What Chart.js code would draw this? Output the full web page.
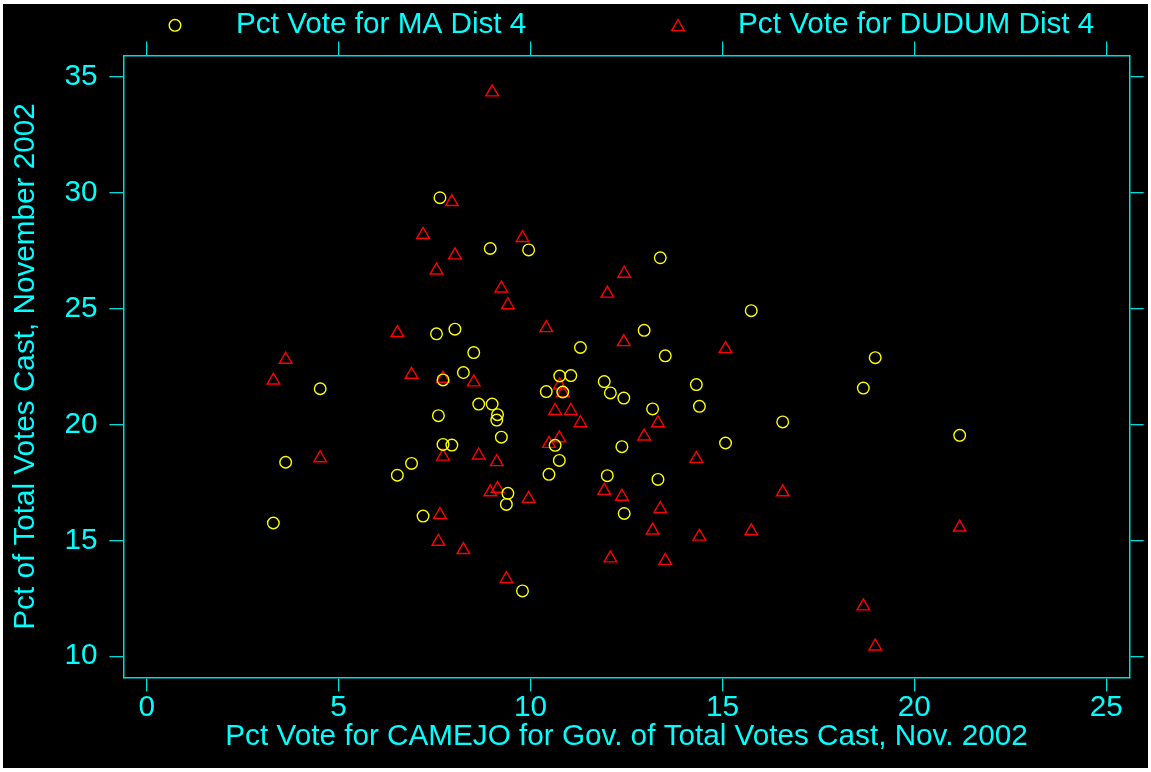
<!DOCTYPE html>
<html>
<head>
<meta charset="utf-8">
<title>Pct Vote for MA and DUDUM, Dist 4</title>
<script src="https://cdn.jsdelivr.net/npm/chart.js@4/dist/chart.umd.min.js"></script>
<style>
  html, body { margin: 0; padding: 0; background: #ffffff; }
  #wrap { position: relative; width: 1151px; height: 772px; }
  #plot { display: block; background: #000000; }
  #frame {
    position: absolute; left: 0; top: 0; right: 0; bottom: 0;
    border-style: solid; border-color: #ffffff;
    border-width: 4px 3px 4px 3px; pointer-events: none;
  }
</style>
</head>
<body>
<div id="wrap">
  <canvas id="plot" width="1151" height="772"></canvas>
  <div id="frame"></div>
</div>
<script>
// Per-precinct percentages, District 4
const camejoPct = [
  3.30, 3.62, 4.52, 6.53, 6.90, 7.20, 7.55, 7.60, 7.64, 7.72,
  7.72, 7.95, 8.03, 8.25, 8.52, 8.65, 8.95, 9.00, 9.14, 9.12,
  9.24, 9.37, 9.41, 9.79, 9.95, 10.41, 10.48, 10.64, 10.75, 10.76,
  10.84, 11.05, 11.30, 11.92, 12.00, 12.08, 12.38, 12.43, 12.44, 12.96,
  13.18, 13.32, 13.38, 13.51, 14.32, 14.40, 15.08, 15.75, 16.57, 18.67,
  18.98, 21.18
];
const maPct = [
  15.75, 18.37, 21.54, 17.81, 18.32, 16.05, 23.91, 20.38, 29.78, 21.92,
  19.14, 19.11, 24.11, 22.24, 23.10, 20.88, 27.59, 20.88, 20.42, 20.19,
  19.45, 16.55, 17.03, 12.82, 27.53, 21.42, 17.85, 19.10, 18.45, 22.09,
  21.40, 22.11, 23.32, 21.85, 17.79, 21.36, 19.04, 21.14, 16.16, 24.06,
  20.67, 17.63, 27.19, 22.96, 21.72, 20.78, 19.20, 24.91, 20.11, 21.57,
  22.88, 19.53
];
const dudumPct = [
  21.90, 22.80, 18.55, 23.95, 22.15, 28.19, 26.65, 14.95, 16.10, 21.98,
  18.62, 29.60, 27.30, 14.59, 21.82, 18.67, 17.08, 34.33, 17.23, 18.38,
  25.87, 13.34, 25.15, 28.05, 16.80, 24.16, 19.17, 20.59, 19.41, 21.69,
  21.36, 20.59, 20.06, 17.14, 25.65, 14.23, 16.89, 23.56, 26.51, 19.49,
  15.43, 20.06, 16.36, 14.12, 18.52, 15.17, 23.26, 15.40, 17.08, 12.16,
  10.43, 15.56
];
const xTickValues = [0, 5, 10, 15, 20, 25];
const yTickValues = [10, 15, 20, 25, 30, 35];
const seriesLabels = ['Pct Vote for MA Dist 4', 'Pct Vote for DUDUM Dist 4'];
const xTitle = 'Pct Vote for CAMEJO for Gov. of Total Votes Cast, Nov. 2002';
const yTitle = 'Pct of Total Votes Cast, November 2002';

const CYAN = '#00ffff';
const AXIS = '#00dcdc';
const FONT = { family: '"Liberation Sans", Arial, Helvetica, sans-serif', size: 29.7 };
Chart.defaults.font.family = FONT.family;

const circleStyle = { pointStyle: 'circle', radius: 5.8, color: '#ffff00', width: 1.4 };
const triangleStyle = { pointStyle: 'triangle', radius: 7.3, color: '#ff0000', width: 1.4 };

function fixedTicks(values) {
  return scale => { scale.ticks = values.map(v => ({ value: v })); };
}

function axisGrid() {
  return { drawOnChartArea: false, drawTicks: true, tickLength: 14, color: AXIS, lineWidth: 1.3 };
}
function axisBorder() {
  return { display: true, color: AXIS, width: 1.5 };
}

// Key drawn across the top margin: symbol then label, two columns
const topKey = {
  id: 'topKey',
  afterDraw(chart) {
    const ctx = chart.ctx;
    const entries = [
      { style: circleStyle, sx: 175, sy: 25.3, tx: 236, label: seriesLabels[0] },
      { style: triangleStyle, sx: 678, sy: 27, tx: 738, label: seriesLabels[1] }
    ];
    ctx.save();
    entries.forEach(e => {
      ctx.strokeStyle = e.style.color;
      ctx.fillStyle = 'rgba(0,0,0,0)';
      ctx.lineWidth = e.style.width;
      Chart.helpers.drawPoint(ctx, {
        pointStyle: e.style.pointStyle, radius: e.style.radius,
        rotation: 0, borderWidth: e.style.width
      }, e.sx, e.sy);
      ctx.fillStyle = CYAN;
      ctx.font = FONT.size + 'px ' + FONT.family;
      ctx.textAlign = 'left';
      ctx.textBaseline = 'middle';
      ctx.fillText(e.label, e.tx, 25);
    });
    ctx.restore();
  }
};

new Chart(document.getElementById('plot'), {
  type: 'scatter',
  data: {
    datasets: [
      {
        label: seriesLabels[0],
        data: camejoPct.map((x, i) => ({ x: x, y: maPct[i] })),
        pointStyle: circleStyle.pointStyle,
        pointRadius: circleStyle.radius,
        borderColor: circleStyle.color,
        backgroundColor: 'rgba(0,0,0,0)',
        borderWidth: circleStyle.width,
        xAxisID: 'x', yAxisID: 'y'
      },
      {
        label: seriesLabels[1],
        data: camejoPct.map((x, i) => ({ x: x, y: dudumPct[i] })),
        pointStyle: triangleStyle.pointStyle,
        pointRadius: triangleStyle.radius,
        borderColor: triangleStyle.color,
        backgroundColor: 'rgba(0,0,0,0)',
        borderWidth: triangleStyle.width,
        xAxisID: 'x', yAxisID: 'y'
      }
    ]
  },
  options: {
    responsive: false,
    animation: false,
    devicePixelRatio: 1,
    layout: { padding: 0 },
    events: [],
    plugins: { legend: { display: false }, tooltip: { enabled: false } },
    scales: {
      x: {
        type: 'linear', position: 'bottom', min: -0.607, max: 25.61,
        afterBuildTicks: fixedTicks(xTickValues),
        afterFit: s => { s.height = 94.5; },
        ticks: { color: CYAN, font: { size: FONT.size, lineHeight: 1.1 }, padding: 0, maxRotation: 0, autoSkip: false },
        grid: axisGrid(), border: axisBorder(),
        title: { display: true, text: xTitle, color: CYAN, font: { size: FONT.size, lineHeight: 1.2 }, padding: { top: 0, bottom: 17 } }
      },
      x2: {
        type: 'linear', position: 'top', min: -0.607, max: 25.61,
        afterBuildTicks: fixedTicks(xTickValues),
        afterFit: s => { s.height = 55.5; },
        ticks: { display: false },
        grid: axisGrid(), border: axisBorder()
      },
      y: {
        type: 'linear', position: 'left', min: 9.085, max: 35.915,
        afterBuildTicks: fixedTicks(yTickValues),
        afterFit: s => { s.width = 123.4; },
        ticks: { color: CYAN, font: { size: FONT.size }, padding: 12, autoSkip: false },
        grid: axisGrid(), border: axisBorder(),
        title: { display: true, text: yTitle, color: CYAN, font: { size: FONT.size, lineHeight: 1.2 }, padding: { top: 8, bottom: 0 } }
      },
      y2: {
        type: 'linear', position: 'right', min: 9.085, max: 35.915,
        afterBuildTicks: fixedTicks(yTickValues),
        afterFit: s => { s.width = 21.3; },
        ticks: { display: false },
        grid: axisGrid(), border: axisBorder()
      }
    }
  },
  plugins: [topKey]
});
</script>
</body>
</html>
